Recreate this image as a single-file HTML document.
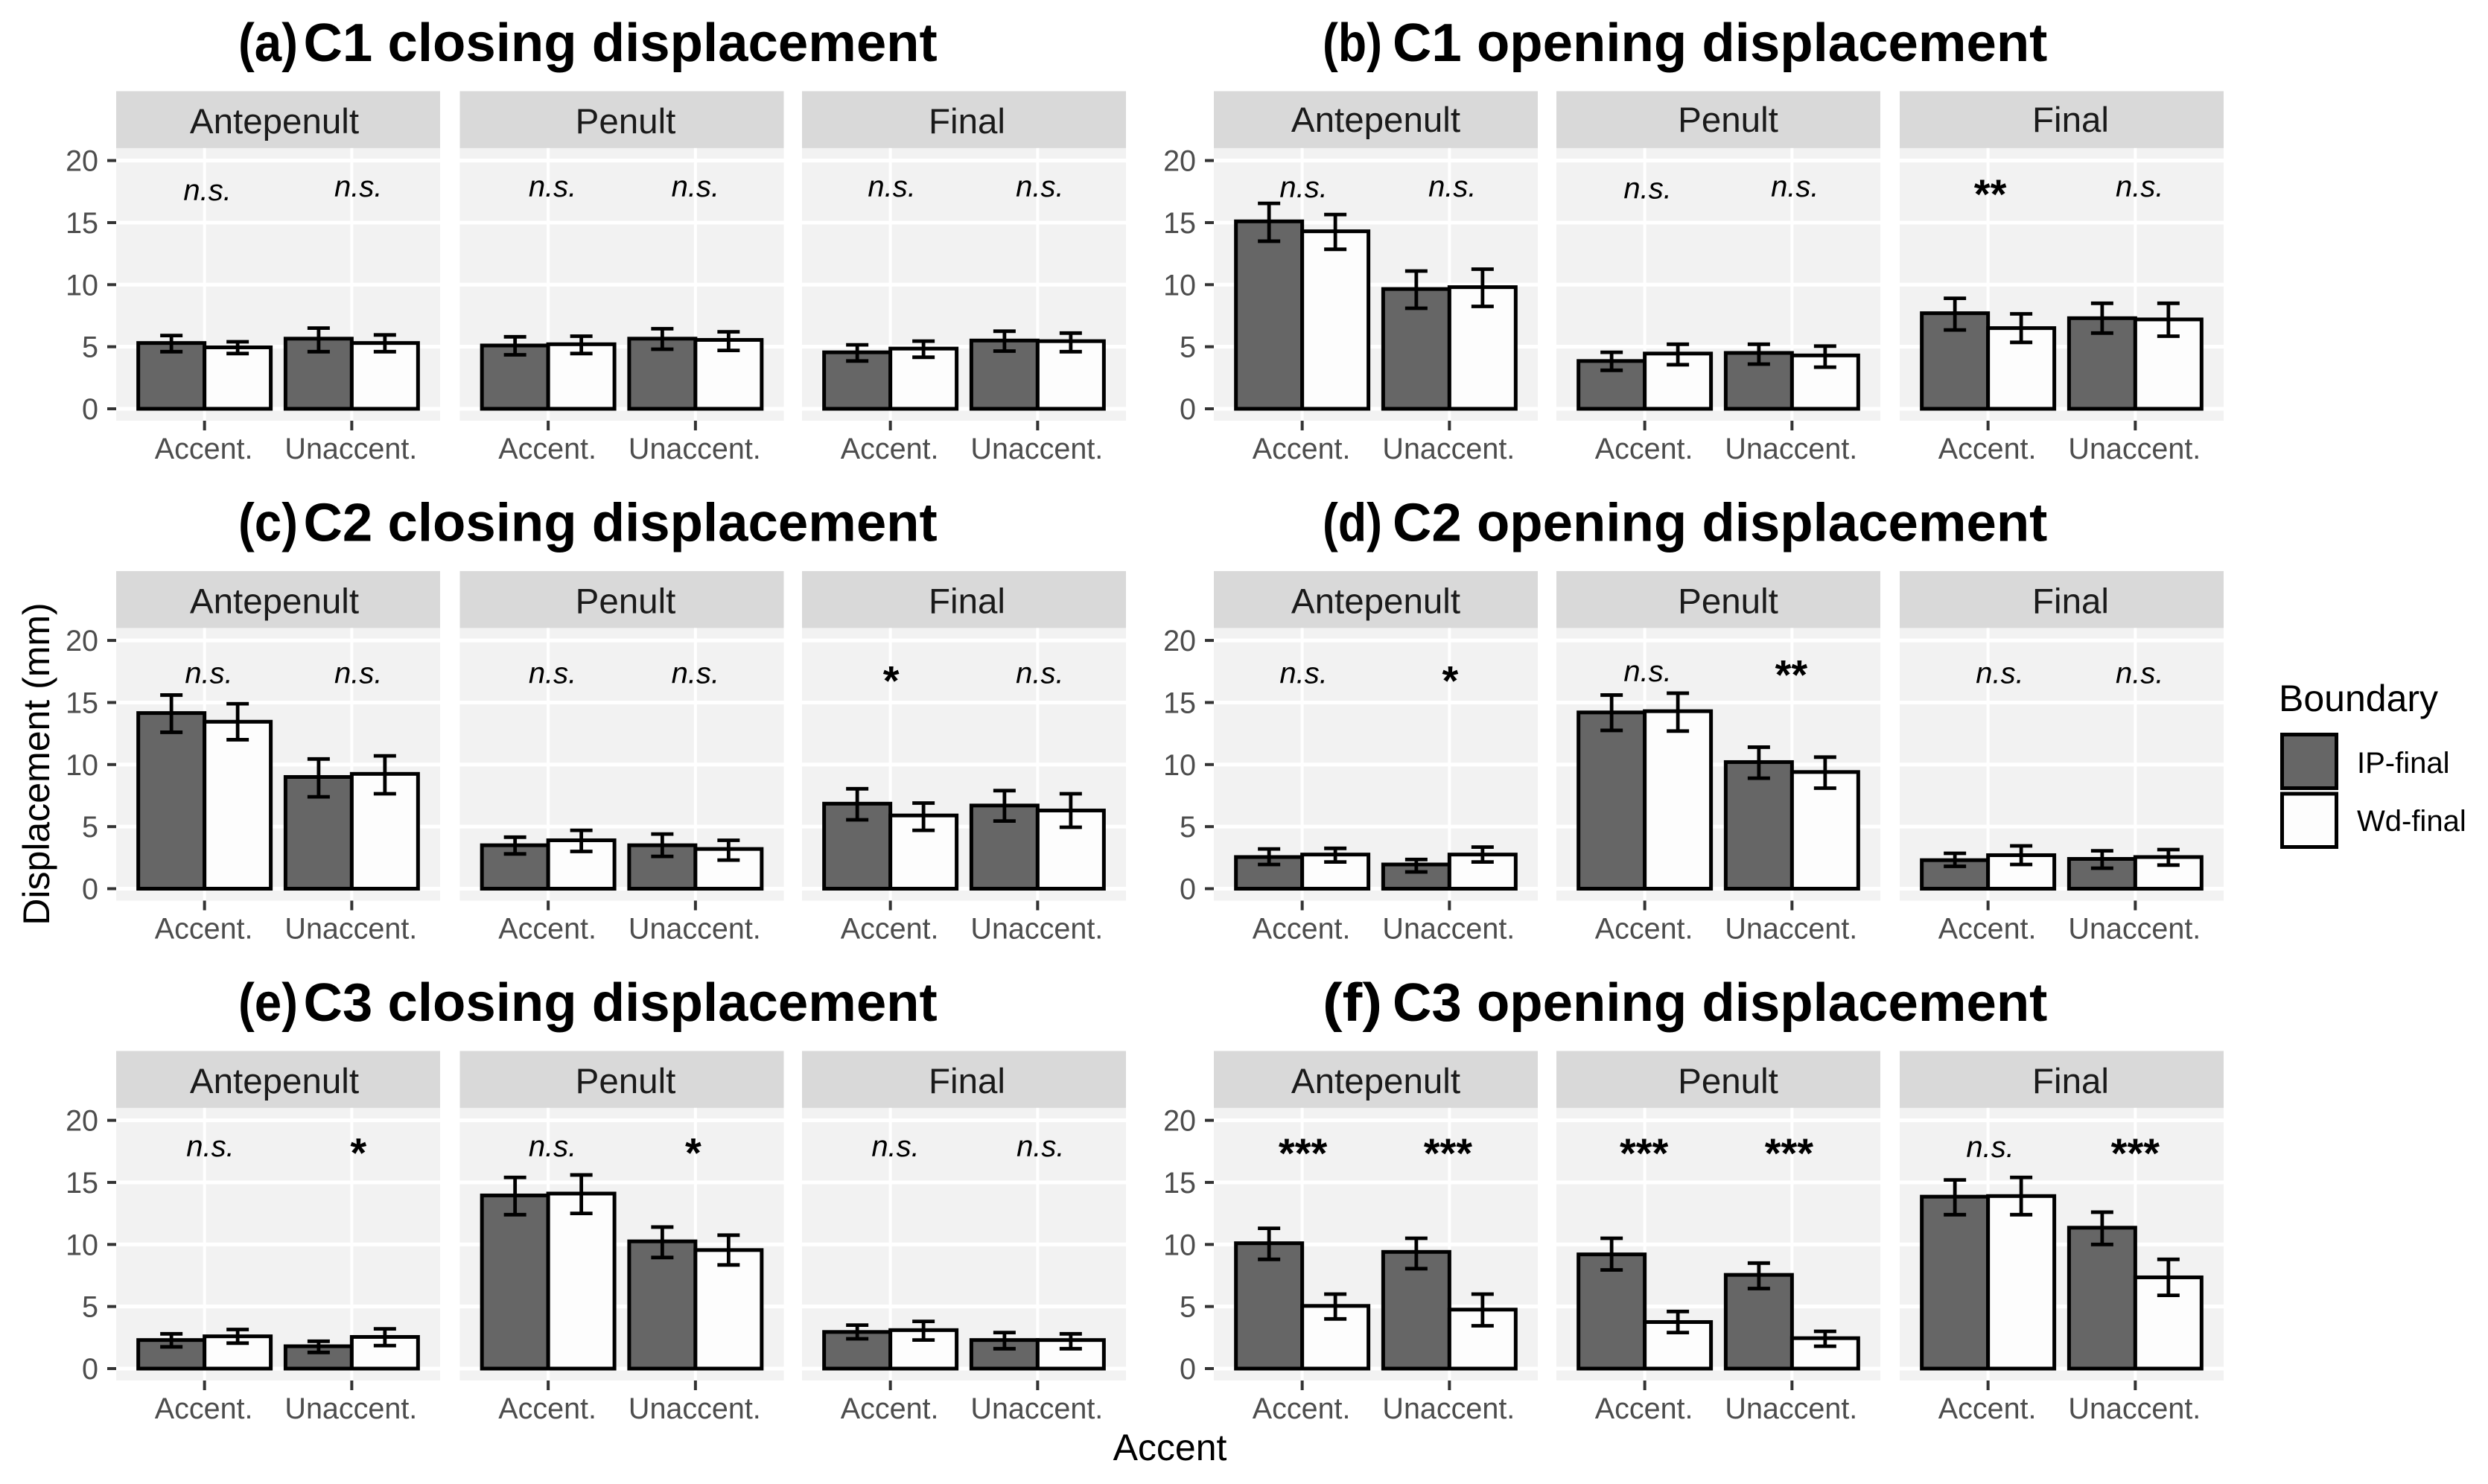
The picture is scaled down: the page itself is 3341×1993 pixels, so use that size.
<!DOCTYPE html>
<html lang="en">
<head>
<meta charset="utf-8">
<title>Displacement bar charts</title>
<style>
html,body{margin:0;padding:0;background:#fff;}
svg{display:block;font-family:"Liberation Sans",Arial,sans-serif;}
.title{font-size:72.6px;font-weight:700;fill:#000;}
.axis-title{font-size:50px;fill:#000;}
.legend-title{font-size:50px;fill:#000;}
.legend-label{font-size:40px;fill:#000;}
.strip-label{font-size:47.5px;fill:#1a1a1a;text-anchor:middle;}
.tick-label{font-size:39.5px;fill:#4d4d4d;}
.sig-ns{font-size:40px;font-style:italic;fill:#000;text-anchor:middle;}
.sig-star{font-size:56px;font-weight:700;fill:#000;text-anchor:middle;}
</style>
</head>
<body>
<svg id="chart" xmlns="http://www.w3.org/2000/svg" width="3341" height="1993" viewBox="0 0 3341 1993">
  <rect x="0" y="0" width="3341" height="1993" fill="#ffffff"/>
  <g id="plots"></g>
  <text class="axis-title" text-anchor="middle" transform="translate(66,1026) rotate(-90)">Displacement (mm)</text>
  <text class="axis-title" text-anchor="middle" x="1571" y="1961" style="font-size:50px">Accent</text>
  <g>
    <text class="legend-title" x="3060" y="955">Boundary</text>
    <rect x="3064.5" y="986.5" width="73" height="72" fill="#666666" stroke="#000" stroke-width="5"/>
    <rect x="3064.5" y="1066" width="73" height="71.5" fill="#fdfdfd" stroke="#000" stroke-width="5"/>
    <text class="legend-label" x="3165" y="1038">IP-final</text>
    <text class="legend-label" x="3165" y="1116">Wd-final</text>
  </g>
</svg>
<script>
// Categories and tick labels
var plotLetters = ['(a)', '(b)', '(c)', '(d)', '(e)', '(f)'];
var plotTitles = ['C1 closing displacement', 'C1 opening displacement', 'C2 closing displacement', 'C2 opening displacement', 'C3 closing displacement', 'C3 opening displacement'];
var facetLabels = ['Antepenult', 'Penult', 'Final'];
var accentLabels = ['Accent.', 'Unaccent.'];
var yTicks = [0, 5, 10, 15, 20];

// Series values, one row per plot; in each row: facet 1 Accent/Unaccent, facet 2 Accent/Unaccent, facet 3 Accent/Unaccent
var ipMean = [
  [5.3, 5.65, 5.1, 5.65, 4.55, 5.5],
  [15.1, 9.65, 3.85, 4.5, 7.7, 7.3],
  [14.15, 9.0, 3.5, 3.5, 6.85, 6.7],
  [2.55, 1.95, 14.2, 10.2, 2.3, 2.4],
  [2.3, 1.8, 13.95, 10.25, 2.95, 2.3],
  [10.1, 9.4, 9.2, 7.55, 13.85, 11.35]
];
var ipHigh = [
  [5.9, 6.5, 5.8, 6.45, 5.15, 6.25],
  [16.55, 11.1, 4.55, 5.2, 8.9, 8.5],
  [15.6, 10.45, 4.15, 4.4, 8.05, 7.9],
  [3.2, 2.35, 15.6, 11.4, 2.85, 3.05],
  [2.8, 2.2, 15.4, 11.4, 3.5, 2.9],
  [11.3, 10.5, 10.5, 8.5, 15.2, 12.6]
];
var ipLow = [
  [4.6, 4.6, 4.35, 4.8, 3.85, 4.65],
  [13.5, 8.1, 3.1, 3.6, 6.35, 6.1],
  [12.6, 7.4, 2.8, 2.6, 5.55, 5.45],
  [1.95, 1.35, 12.75, 8.9, 1.8, 1.65],
  [1.75, 1.3, 12.4, 8.95, 2.4, 1.6],
  [8.8, 8.05, 7.95, 6.45, 12.4, 10.0]
];
var wdMean = [
  [4.95, 5.3, 5.2, 5.55, 4.85, 5.45],
  [14.3, 9.8, 4.45, 4.3, 6.5, 7.2],
  [13.45, 9.25, 3.9, 3.2, 5.9, 6.3],
  [2.75, 2.75, 14.3, 9.4, 2.7, 2.55],
  [2.6, 2.55, 14.1, 9.55, 3.1, 2.3],
  [5.05, 4.75, 3.75, 2.45, 13.9, 7.35]
];
var wdHigh = [
  [5.4, 5.95, 5.85, 6.2, 5.45, 6.1],
  [15.65, 11.25, 5.2, 5.05, 7.65, 8.5],
  [14.9, 10.7, 4.7, 3.9, 6.9, 7.65],
  [3.25, 3.35, 15.75, 10.6, 3.45, 3.15],
  [3.15, 3.2, 15.6, 10.75, 3.8, 2.8],
  [6.0, 6.0, 4.6, 3.0, 15.4, 8.8]
];
var wdLow = [
  [4.45, 4.6, 4.45, 4.7, 4.15, 4.6],
  [12.85, 8.25, 3.55, 3.35, 5.35, 5.85],
  [12.0, 7.65, 3.0, 2.3, 4.7, 4.95],
  [2.15, 2.15, 12.7, 8.1, 1.95, 1.9],
  [2.05, 1.85, 12.5, 8.35, 2.3, 1.6],
  [4.0, 3.45, 2.9, 1.8, 12.4, 5.9]
];
var sigLabels = [
  ['n.s.', 'n.s.', 'n.s.', 'n.s.', 'n.s.', 'n.s.'],
  ['n.s.', 'n.s.', 'n.s.', 'n.s.', '**', 'n.s.'],
  ['n.s.', 'n.s.', 'n.s.', 'n.s.', '*', 'n.s.'],
  ['n.s.', '*', 'n.s.', '**', 'n.s.', 'n.s.'],
  ['n.s.', '*', 'n.s.', '*', 'n.s.', 'n.s.'],
  ['***', '***', '***', '***', 'n.s.', '***']
];
// Annotation heights in data units
var sigHeights = [
  [17.4, 17.7, 17.7, 17.7, 17.7, 17.7],
  [17.65, 17.7, 17.55, 17.7, 17.7, 17.7],
  [17.15, 17.15, 17.15, 17.15, 17.15, 17.15],
  [17.15, 17.15, 17.3, 17.65, 17.15, 17.15],
  [17.7, 17.8, 17.7, 17.8, 17.7, 17.7],
  [17.75, 17.75, 17.75, 17.75, 17.65, 17.75]
];
// Annotation shift along the category axis, in category units
var sigShifts = [
  [0.02, 0.045, 0.03, 0, 0.01, 0.015],
  [0.01, 0.02, 0.02, 0.02, 0.015, 0.03],
  [0.03, 0.045, 0.03, 0, 0.005, 0.015],
  [0.01, 0.005, 0.02, -0.005, 0.08, 0.03],
  [0.04, 0.045, 0.03, -0.015, 0.035, 0.02],
  [0.005, -0.01, -0.005, -0.02, 0.015, 0]
];

// Layout
var SVGNS = 'http://www.w3.org/2000/svg';
var columnLefts = [[156, 617.5, 1077], [1630, 2090, 2551]];
var rowZero = [549, 1193.5, 1838];
var titleLetterX = [320, 1776];
var titleMainX = [407.5, 1870];
var stripShift = [[-5, 5, 4], [0, 13, 12]];
var panelW = 435;
var unitY = 16.67;
var bandW = panelW / 2.2;

function make(tag, parent, attrs, txt) {
  var n = document.createElementNS(SVGNS, tag);
  for (var k in attrs) n.setAttribute(k, attrs[k]);
  if (txt !== undefined) n.textContent = txt;
  parent.appendChild(n);
  return n;
}
function yScale(row, v) { return rowZero[row] - v * unitY; }
function xScale(col, facet, cat, dodge) {
  return columnLefts[col][facet] + (0.6 + cat + dodge) * bandW;
}

var root = document.getElementById('plots');

function drawBar(g, row, col, f, c, side, value, fill) {
  var x0 = xScale(col, f, c, side * 0.45 - 0.45);
  var y0 = yScale(row, value);
  var bar = make('rect', g, {x: x0, y: y0, width: 0.45 * bandW, height: yScale(row, 0) - y0, fill: fill, stroke: '#000', 'stroke-width': 5});
  
  
}
function drawError(g, row, col, f, c, side, hi, lo) {
  var cx = xScale(col, f, c, side * 0.45 - 0.225);
  var yh = yScale(row, hi), yl = yScale(row, lo);
  var eb = make('path', g, {d: 'M' + (cx - 15) + ' ' + yh + 'H' + (cx + 15) + 'M' + cx + ' ' + yh + 'V' + yl + 'M' + (cx - 15) + ' ' + yl + 'H' + (cx + 15), fill: 'none', stroke: '#000', 'stroke-width': 4.8});
  
  
}

plotTitles.forEach(function (title, p) {
  var col = p % 2, row = Math.floor(p / 2);
  var plot = make('g', root, {});
  
  

  var baseline = rowZero[row] - 467;
  var letter = make('text', plot, {'class': 'title', x: titleLetterX[col], y: baseline, textLength: 80, lengthAdjust: 'spacingAndGlyphs'}, plotLetters[p]);
  
  
  var mainTitle = make('text', plot, {'class': 'title', x: titleMainX[col], y: baseline}, title);
  
  

  var panelTop = yScale(row, 21);
  var panelBottom = yScale(row, -0.96);

  facetLabels.forEach(function (facet, f) {
    var left = columnLefts[col][f];
    var strip = make('rect', plot, {x: left, y: panelTop - 76.5, width: panelW, height: 76.5, fill: '#d9d9d9'});
    
    
    var stripLift = (row === 0 && col === 1) ? 22 : 20;
    var stripText = make('text', plot, {'class': 'strip-label', x: left + panelW / 2 + stripShift[col][f], y: panelTop - stripLift}, facet);
    
    
    var panel = make('rect', plot, {x: left, y: panelTop, width: panelW, height: panelBottom - panelTop, fill: '#f2f2f2'});
    
    

    yTicks.forEach(function (t) {
      var yy = yScale(row, t);
      var grid = make('line', plot, {x1: left, x2: left + panelW, y1: yy, y2: yy, stroke: '#fff', 'stroke-width': 5});
      
      
      if (f === 0) {
        var tick = make('line', plot, {x1: left - 12, x2: left, y1: yy, y2: yy, stroke: '#333', 'stroke-width': 4});
        
        
        var lab = make('text', plot, {'class': 'tick-label', 'text-anchor': 'end', x: left - 24, y: yy + 14}, String(t));
        
        
      }
    });

    accentLabels.forEach(function (label, c) {
      var tx = xScale(col, f, c, 0);
      var vgrid = make('line', plot, {x1: tx, x2: tx, y1: panelTop, y2: panelBottom, stroke: '#fff', 'stroke-width': 4});
      
      
      var xt = make('line', plot, {x1: tx, x2: tx, y1: panelBottom, y2: panelBottom + 13, stroke: '#333', 'stroke-width': 4});
      
      
      var xl = make('text', plot, {'class': 'tick-label', 'text-anchor': 'middle', x: tx - 1, y: panelBottom + 51}, label);
      
      
    });

    accentLabels.forEach(function (label, c) {
      var i = f * 2 + c;
      drawBar(plot, row, col, f, c, 0, ipMean[p][i], '#666666');
      drawBar(plot, row, col, f, c, 1, wdMean[p][i], '#fdfdfd');
      drawError(plot, row, col, f, c, 0, ipHigh[p][i], ipLow[p][i]);
      drawError(plot, row, col, f, c, 1, wdHigh[p][i], wdLow[p][i]);

      var s = sigLabels[p][i];
      var isStar = s.charAt(0) === '*';
      var sy = yScale(row, sigHeights[p][i]) + (isStar ? 26 : 10);
      var sig = make('text', plot, {'class': isStar ? 'sig-star' : 'sig-ns', x: xScale(col, f, c, sigShifts[p][i]), y: sy}, s);
      
      
    });
  });
});
</script>
</body>
</html>
